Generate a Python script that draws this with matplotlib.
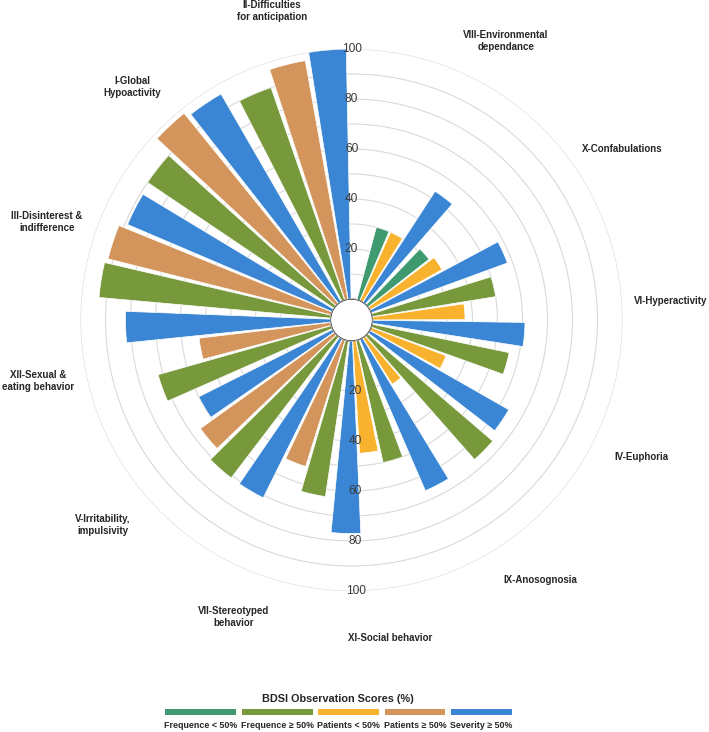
import numpy as np
import matplotlib
matplotlib.use('Agg')
import matplotlib.pyplot as plt
from matplotlib.patches import Rectangle, Circle

plt.rcParams['font.family'] = ['Liberation Sans', 'DejaVu Sans']

# clockwise from the top right
categories = ['VIII-Environmental\ndependance', 'X-Confabulations', 'VI-Hyperactivity',
	'IV-Euphoria', 'IX-Anosognosia', 'XI-Social behavior', 'VII-Stereotyped\nbehavior',
	'V-Irritability,\nimpulsivity', 'XII-Sexual &\neating behavior',
	'III-Disinterest &\nindifference', 'I-Global\nHypoactivity', 'II-Difficulties\nfor anticipation']
frequence = [30, 31, 50, 56, 66, 50, 63, 71, 72, 93, 90, 90]
patients = [30, 33, 37, 32, 22, 45, 53, 66, 53, 92, 98, 97]
severity = [53, 58, 61, 64, 66, 77, 71, 60, 82, 89, 96, 100]
ticks = [20, 40, 60, 80, 100]

legend_labels = ['Frequence < 50%', 'Frequence \u2265 50%', 'Patients < 50%', 'Patients \u2265 50%', 'Severity \u2265 50%']
c_freq_lo = '#3f9a6f'
c_freq_hi = '#77993b'
c_pat_lo = '#f9b22e'
c_pat_hi = '#d4955c'
c_sev = '#3a86d4'
legend_colors = [c_freq_lo, c_freq_hi, c_pat_lo, c_pat_hi, c_sev]

W, H = 709, 732
fig = plt.figure(figsize=(W / 100, H / 100), dpi=100)

cx, cy, R = 351.5, 320, 271
ax = fig.add_axes([(cx - R) / W, (H - cy - R) / H, 2 * R / W, 2 * R / H], projection='polar')
ax.set_ylim(0, 100)
ax.set_rorigin(-8.4)
ax.set_yticks(np.arange(10, 101, 10))
ax.set_yticklabels([])
ax.set_xticks([])
ax.yaxis.grid(True, color='#d9d9d9', lw=0.8)
for s in ax.spines.values():
	s.set_visible(False)
ax.patch.set_visible(False)
ax.set_axisbelow(True)

n = len(categories)
start = 71.0
period = 28.9
step = 9.0
width = np.deg2rad(8.0)
g = np.arange(n)

freq_colors = [c_freq_lo if v < 50 else c_freq_hi for v in frequence]
pat_colors = [c_pat_lo if v < 50 else c_pat_hi for v in patients]

for j, (vals, cols) in enumerate([(frequence, freq_colors), (patients, pat_colors), (severity, [c_sev] * n)]):
	theta = np.deg2rad(start - period * g - step * j)
	ax.bar(theta, vals, width=width, bottom=0, color=cols, edgecolor='white', linewidth=0.5, zorder=2)

# clean white hole in the middle
ax.add_artist(Circle((0.5, 0.5), 21.5 / (2 * R), transform=ax.transAxes,
	facecolor='white', edgecolor='none', zorder=5))

for t in ticks:
	ax.text(np.pi / 2, t, str(t), ha='center', va='center', fontsize=8.6, color='#3a3a3a', zorder=6)
	ax.annotate(str(t), (3 * np.pi / 2, t), xytext=(4, 0), textcoords='offset pixels',
		ha='center', va='center', fontsize=8.6, color='#3a3a3a', zorder=6)

# label centres in pixels
label_pos = [(506, 41), (622, 149), (671, 301), (641, 457), (540, 580), (390, 638),
	(234, 617), (103, 525), (38, 381), (47, 222), (132, 87), (272, 11)]
for name, (x, y) in zip(categories, label_pos):
	fig.text(x / W, 1 - y / H, name, ha='center', va='center', fontsize=7.0,
		fontweight='bold', color='#262626', linespacing=1.15)

fig.text(338 / W, 1 - 699 / H, 'BDSI Observation Scores (%)', ha='center', va='center',
	fontsize=7.8, fontweight='bold', color='#262626')
spans = [(165, 236), (242, 313), (318, 379), (385, 445), (451, 512)]
for (x0, x1), col, lab in zip(spans, legend_colors, legend_labels):
	fig.add_artist(Rectangle((x0 / W, 1 - 715 / H), (x1 - x0) / W, 6 / H,
		transform=fig.transFigure, color=col, lw=0))
	fig.text((x0 + x1) / 2 / W, 1 - 725 / H, lab, ha='center', va='center',
		fontsize=6.4, fontweight='bold', color='#262626')

fig.savefig('out.png', dpi=100)
